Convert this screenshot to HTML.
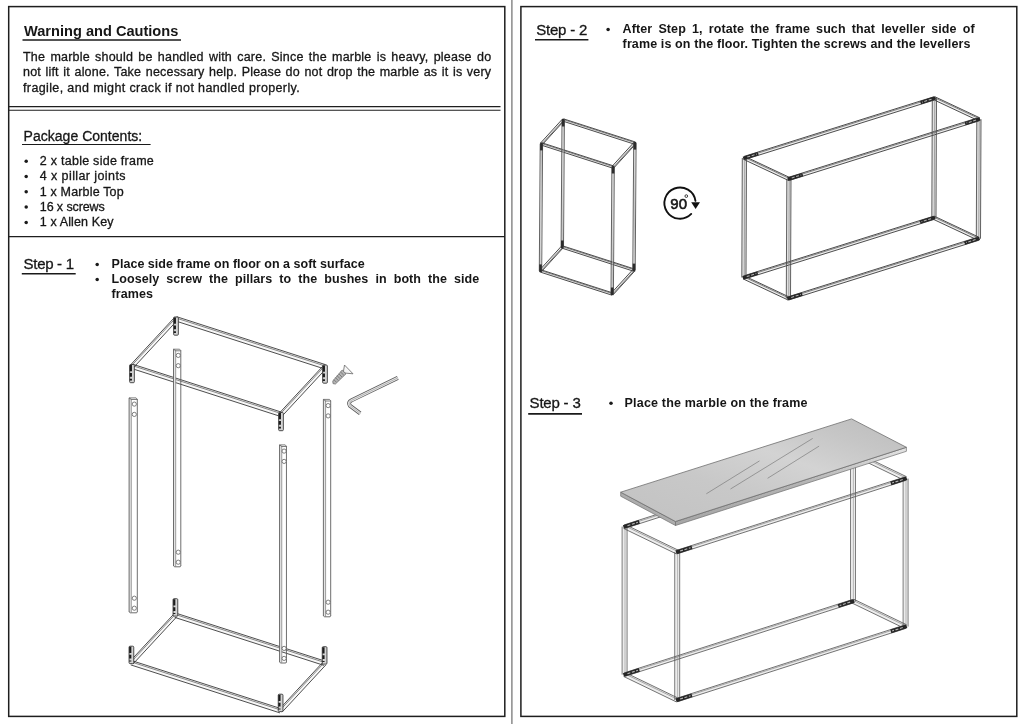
<!DOCTYPE html>
<html><head><meta charset="utf-8"><title>Assembly instructions</title>
<style>
html,body{margin:0;padding:0;background:#fff;}
body{width:1024px;height:724px;position:relative;overflow:hidden;font-family:"Liberation Sans",sans-serif;color:#161616;}
svg{position:absolute;left:0;top:0;}
.t{position:absolute;filter:grayscale(1);white-space:nowrap;line-height:1;margin:0;padding:0;}
</style></head><body>
<svg width="1024" height="724" viewBox="0 0 1024 724">
<rect x="8.7" y="6.6" width="496.1" height="709.8" fill="none" stroke="#1e1e1e" stroke-width="1.5"/>
<rect x="520.9" y="6.6" width="495.9" height="709.8" fill="none" stroke="#1e1e1e" stroke-width="1.5"/>
<line x1="511.9" y1="0" x2="511.9" y2="724" stroke="#777" stroke-width="1.3" />
<line x1="8.7" y1="106.6" x2="500.5" y2="106.6" stroke="#1e1e1e" stroke-width="1.1" />
<line x1="8.7" y1="110.2" x2="500.5" y2="110.2" stroke="#1e1e1e" stroke-width="1.1" />
<line x1="8.7" y1="236.7" x2="504.8" y2="236.7" stroke="#1e1e1e" stroke-width="1.3" />
<polygon points="175.33,320.89 324.33,368.89 325.67,364.71 176.67,316.71" fill="rgba(0,0,0,0.03)"/>
<line x1="175.33" y1="320.89" x2="324.33" y2="368.89" stroke="#3a3a3a" stroke-width="0.9" />
<line x1="176.67" y1="316.71" x2="325.67" y2="364.71" stroke="#3a3a3a" stroke-width="0.9" />
<line x1="176.24" y1="318.05" x2="325.24" y2="366.05" stroke="#5a5a5a" stroke-width="0.7200000000000001" />
<polygon points="131.33,368.39 280.33,416.39 281.67,412.21 132.67,364.21" fill="rgba(0,0,0,0.03)"/>
<line x1="131.33" y1="368.39" x2="280.33" y2="416.39" stroke="#3a3a3a" stroke-width="0.9" />
<line x1="132.67" y1="364.21" x2="281.67" y2="412.21" stroke="#3a3a3a" stroke-width="0.9" />
<line x1="132.24" y1="365.55" x2="281.24" y2="413.55" stroke="#5a5a5a" stroke-width="0.7200000000000001" />
<polygon points="133.47,367.66 177.47,320.16 174.53,317.44 130.53,364.94" fill="rgba(0,0,0,0.03)"/>
<line x1="133.47" y1="367.66" x2="177.47" y2="320.16" stroke="#3a3a3a" stroke-width="0.9" />
<line x1="130.53" y1="364.94" x2="174.53" y2="317.44" stroke="#3a3a3a" stroke-width="0.9" />
<line x1="131.47" y1="365.81" x2="175.47" y2="318.31" stroke="#5a5a5a" stroke-width="0.7200000000000001" />
<polygon points="282.47,415.66 326.47,368.16 323.53,365.44 279.53,412.94" fill="rgba(0,0,0,0.03)"/>
<line x1="282.47" y1="415.66" x2="326.47" y2="368.16" stroke="#3a3a3a" stroke-width="0.9" />
<line x1="279.53" y1="412.94" x2="323.53" y2="365.44" stroke="#3a3a3a" stroke-width="0.9" />
<line x1="280.47" y1="413.81" x2="324.47" y2="366.31" stroke="#5a5a5a" stroke-width="0.7200000000000001" />
<rect x="173.65" y="317" width="4.7" height="18.2" rx="1.0" fill="#d4d4d4" stroke="#3a3a3a" stroke-width="0.9"/>
<line x1="174.85" y1="317.6" x2="174.85" y2="333" stroke="#1c1c1c" stroke-width="2.2" stroke-dasharray="6.2 1.8 3.6 2.0"/>
<rect x="129.65" y="364.5" width="4.7" height="18.2" rx="1.0" fill="#d4d4d4" stroke="#3a3a3a" stroke-width="0.9"/>
<line x1="130.85" y1="365.1" x2="130.85" y2="380.5" stroke="#1c1c1c" stroke-width="2.2" stroke-dasharray="6.2 1.8 3.6 2.0"/>
<rect x="322.65" y="365" width="4.7" height="18.2" rx="1.0" fill="#d4d4d4" stroke="#3a3a3a" stroke-width="0.9"/>
<line x1="323.85" y1="365.6" x2="323.85" y2="381" stroke="#1c1c1c" stroke-width="2.2" stroke-dasharray="6.2 1.8 3.6 2.0"/>
<rect x="278.65" y="412.5" width="4.7" height="18.2" rx="1.0" fill="#d4d4d4" stroke="#3a3a3a" stroke-width="0.9"/>
<line x1="279.85" y1="413.1" x2="279.85" y2="428.5" stroke="#1c1c1c" stroke-width="2.2" stroke-dasharray="6.2 1.8 3.6 2.0"/>
<polygon points="174.73,617.39 323.93,665.39 325.27,661.21 176.07,613.21" fill="rgba(0,0,0,0.03)"/>
<line x1="174.73" y1="617.39" x2="323.93" y2="665.39" stroke="#3a3a3a" stroke-width="0.9" />
<line x1="176.07" y1="613.21" x2="325.27" y2="661.21" stroke="#3a3a3a" stroke-width="0.9" />
<line x1="175.64" y1="614.55" x2="324.84" y2="662.55" stroke="#5a5a5a" stroke-width="0.7200000000000001" />
<polygon points="130.73,664.89 279.93,712.89 281.27,708.71 132.07,660.71" fill="rgba(0,0,0,0.03)"/>
<line x1="130.73" y1="664.89" x2="279.93" y2="712.89" stroke="#3a3a3a" stroke-width="0.9" />
<line x1="132.07" y1="660.71" x2="281.27" y2="708.71" stroke="#3a3a3a" stroke-width="0.9" />
<line x1="131.64" y1="662.05" x2="280.84" y2="710.05" stroke="#5a5a5a" stroke-width="0.7200000000000001" />
<polygon points="132.87,664.16 176.87,616.66 173.93,613.94 129.93,661.44" fill="rgba(0,0,0,0.03)"/>
<line x1="132.87" y1="664.16" x2="176.87" y2="616.66" stroke="#3a3a3a" stroke-width="0.9" />
<line x1="129.93" y1="661.44" x2="173.93" y2="613.94" stroke="#3a3a3a" stroke-width="0.9" />
<line x1="130.87" y1="662.31" x2="174.87" y2="614.81" stroke="#5a5a5a" stroke-width="0.7200000000000001" />
<polygon points="282.07,712.16 326.07,664.66 323.13,661.94 279.13,709.44" fill="rgba(0,0,0,0.03)"/>
<line x1="282.07" y1="712.16" x2="326.07" y2="664.66" stroke="#3a3a3a" stroke-width="0.9" />
<line x1="279.13" y1="709.44" x2="323.13" y2="661.94" stroke="#3a3a3a" stroke-width="0.9" />
<line x1="280.07" y1="710.31" x2="324.07" y2="662.81" stroke="#5a5a5a" stroke-width="0.7200000000000001" />
<rect x="173.05" y="598.7" width="4.7" height="17.4" rx="1.0" fill="#d4d4d4" stroke="#3a3a3a" stroke-width="0.9"/>
<line x1="174.25" y1="599.3" x2="174.25" y2="613.9" stroke="#1c1c1c" stroke-width="2.2" stroke-dasharray="6.2 1.8 3.6 2.0"/>
<rect x="129.05" y="646.2" width="4.7" height="17.4" rx="1.0" fill="#d4d4d4" stroke="#3a3a3a" stroke-width="0.9"/>
<line x1="130.25" y1="646.8" x2="130.25" y2="661.4" stroke="#1c1c1c" stroke-width="2.2" stroke-dasharray="6.2 1.8 3.6 2.0"/>
<rect x="322.25" y="646.7" width="4.7" height="17.4" rx="1.0" fill="#d4d4d4" stroke="#3a3a3a" stroke-width="0.9"/>
<line x1="323.45" y1="647.3" x2="323.45" y2="661.9" stroke="#1c1c1c" stroke-width="2.2" stroke-dasharray="6.2 1.8 3.6 2.0"/>
<rect x="278.25" y="694.2" width="4.7" height="17.4" rx="1.0" fill="#d4d4d4" stroke="#3a3a3a" stroke-width="0.9"/>
<line x1="279.45" y1="694.8" x2="279.45" y2="709.4" stroke="#1c1c1c" stroke-width="2.2" stroke-dasharray="6.2 1.8 3.6 2.0"/>
<rect x="129.1" y="397.9" width="2.2" height="214.9" fill="#e4e4e4"/>
<line x1="129.1" y1="397.9" x2="129.1" y2="612" stroke="#5e5e5e" stroke-width="0.9" />
<line x1="137.3" y1="399.1" x2="137.3" y2="612" stroke="#5e5e5e" stroke-width="0.9" />
<line x1="131.3" y1="398.9" x2="131.3" y2="612.3" stroke="#808080" stroke-width="0.75" />
<path d="M129.1 397.9 L136.1 397.9 L137.3 399.3 M129.1 397.9 L131.3 399.5 L137.3 399.5" fill="none" stroke="#5e5e5e" stroke-width="0.8"/>
<path d="M129.1 611.8 L130.3 612.8 L136.7 612.8 L137.3 611.8" fill="none" stroke="#5e5e5e" stroke-width="0.9"/>
<circle cx="134.3" cy="404.1" r="2.1" fill="#fff" stroke="#5e5e5e" stroke-width="0.8"/>
<circle cx="134.3" cy="414.4" r="2.1" fill="#fff" stroke="#5e5e5e" stroke-width="0.8"/>
<circle cx="134.3" cy="608.2" r="2.1" fill="#fff" stroke="#5e5e5e" stroke-width="0.8"/>
<circle cx="134.3" cy="598.2" r="2.1" fill="#fff" stroke="#5e5e5e" stroke-width="0.8"/>
<rect x="173.5" y="349.2" width="2.2" height="217.6" fill="#e4e4e4"/>
<line x1="173.5" y1="349.2" x2="173.5" y2="566" stroke="#5e5e5e" stroke-width="0.9" />
<line x1="180.8" y1="350.4" x2="180.8" y2="566" stroke="#5e5e5e" stroke-width="0.9" />
<line x1="175.7" y1="350.2" x2="175.7" y2="566.3" stroke="#808080" stroke-width="0.75" />
<path d="M173.5 349.2 L179.6 349.2 L180.8 350.6 M173.5 349.2 L175.7 350.8 L180.8 350.8" fill="none" stroke="#5e5e5e" stroke-width="0.8"/>
<path d="M173.5 565.8 L174.7 566.8 L180.2 566.8 L180.8 565.8" fill="none" stroke="#5e5e5e" stroke-width="0.9"/>
<circle cx="178.25" cy="355.4" r="2.1" fill="#fff" stroke="#5e5e5e" stroke-width="0.8"/>
<circle cx="178.25" cy="365.7" r="2.1" fill="#fff" stroke="#5e5e5e" stroke-width="0.8"/>
<circle cx="178.25" cy="562.2" r="2.1" fill="#fff" stroke="#5e5e5e" stroke-width="0.8"/>
<circle cx="178.25" cy="552.2" r="2.1" fill="#fff" stroke="#5e5e5e" stroke-width="0.8"/>
<rect x="279.55" y="444.9" width="2.2" height="218.1" fill="#e4e4e4"/>
<line x1="279.55" y1="444.9" x2="279.55" y2="662.2" stroke="#5e5e5e" stroke-width="0.9" />
<line x1="286.45" y1="446.1" x2="286.45" y2="662.2" stroke="#5e5e5e" stroke-width="0.9" />
<line x1="281.75" y1="445.9" x2="281.75" y2="662.5" stroke="#808080" stroke-width="0.75" />
<path d="M279.55 444.9 L285.25 444.9 L286.45 446.3 M279.55 444.9 L281.75 446.5 L286.45 446.5" fill="none" stroke="#5e5e5e" stroke-width="0.8"/>
<path d="M279.55 662 L280.75 663 L285.85 663 L286.45 662" fill="none" stroke="#5e5e5e" stroke-width="0.9"/>
<circle cx="284.1" cy="451.1" r="2.1" fill="#fff" stroke="#5e5e5e" stroke-width="0.8"/>
<circle cx="284.1" cy="461.4" r="2.1" fill="#fff" stroke="#5e5e5e" stroke-width="0.8"/>
<circle cx="284.1" cy="658.4" r="2.1" fill="#fff" stroke="#5e5e5e" stroke-width="0.8"/>
<circle cx="284.1" cy="648.4" r="2.1" fill="#fff" stroke="#5e5e5e" stroke-width="0.8"/>
<rect x="323.4" y="399.4" width="2.2" height="217.4" fill="#e4e4e4"/>
<line x1="323.4" y1="399.4" x2="323.4" y2="616" stroke="#5e5e5e" stroke-width="0.9" />
<line x1="330.7" y1="400.6" x2="330.7" y2="616" stroke="#5e5e5e" stroke-width="0.9" />
<line x1="325.6" y1="400.4" x2="325.6" y2="616.3" stroke="#808080" stroke-width="0.75" />
<path d="M323.4 399.4 L329.5 399.4 L330.7 400.8 M323.4 399.4 L325.6 401 L330.7 401" fill="none" stroke="#5e5e5e" stroke-width="0.8"/>
<path d="M323.4 615.8 L324.6 616.8 L330.1 616.8 L330.7 615.8" fill="none" stroke="#5e5e5e" stroke-width="0.9"/>
<circle cx="328.15" cy="405.6" r="2.1" fill="#fff" stroke="#5e5e5e" stroke-width="0.8"/>
<circle cx="328.15" cy="415.9" r="2.1" fill="#fff" stroke="#5e5e5e" stroke-width="0.8"/>
<circle cx="328.15" cy="612.2" r="2.1" fill="#fff" stroke="#5e5e5e" stroke-width="0.8"/>
<circle cx="328.15" cy="602.2" r="2.1" fill="#fff" stroke="#5e5e5e" stroke-width="0.8"/>
<g stroke="#777" stroke-width="0.8" fill="none"><polygon points="344.5,365.0 353.0,373.8 343.2,372.9" fill="#f6f6f6" stroke="#666"/><polygon points="342.2,370.0 346.0,373.8 335.4,384.0 333.0,383.6 332.8,381.0" fill="#b4b4b4" stroke="#707070"/><path d="M340.6,372 l3.2,3.2 M338.8,373.8 l3.2,3.2 M337,375.6 l3.2,3.2 M335.2,377.4 l3.2,3.2 M333.8,379.6 l2.6,2.6" stroke="#6f6f6f"/></g>
<g fill="none" stroke-linecap="butt" stroke-linejoin="round"><path d="M397.8,377.9 L351.6,400.3 Q347.6,402.4 349.8,405.6 L360.2,413.4" stroke="#5c5c5c" stroke-width="4.0"/><path d="M397.8,377.9 L351.6,400.3 Q347.6,402.4 349.8,405.6 L360.2,413.4" stroke="#ececec" stroke-width="2.4"/><path d="M397.8,377.9 L351.6,400.3 Q347.6,402.4 349.8,405.6 L360.2,413.4" stroke="#8a8a8a" stroke-width="0.6"/></g>
<polygon points="562.83,121.14 634.53,144.24 635.27,141.96 563.57,118.86" fill="rgba(0,0,0,0.07)"/>
<line x1="562.83" y1="121.14" x2="634.53" y2="144.24" stroke="#3a3a3a" stroke-width="0.9" />
<line x1="563.57" y1="118.86" x2="635.27" y2="141.96" stroke="#3a3a3a" stroke-width="0.9" />
<line x1="563.33" y1="119.59" x2="635.03" y2="142.69" stroke="#5a5a5a" stroke-width="0.7200000000000001" />
<polygon points="541.03,145.04 612.73,168.14 613.47,165.86 541.77,142.76" fill="rgba(0,0,0,0.07)"/>
<line x1="541.03" y1="145.04" x2="612.73" y2="168.14" stroke="#3a3a3a" stroke-width="0.9" />
<line x1="541.77" y1="142.76" x2="613.47" y2="165.86" stroke="#3a3a3a" stroke-width="0.9" />
<line x1="541.53" y1="143.49" x2="613.23" y2="166.59" stroke="#5a5a5a" stroke-width="0.7200000000000001" />
<polygon points="562.31,119.19 540.51,143.09 542.29,144.71 564.09,120.81" fill="rgba(0,0,0,0.07)"/>
<line x1="562.31" y1="119.19" x2="540.51" y2="143.09" stroke="#3a3a3a" stroke-width="0.9" />
<line x1="564.09" y1="120.81" x2="542.29" y2="144.71" stroke="#3a3a3a" stroke-width="0.9" />
<line x1="563.52" y1="120.29" x2="541.72" y2="144.19" stroke="#5a5a5a" stroke-width="0.7200000000000001" />
<polygon points="634.01,142.29 612.21,166.19 613.99,167.81 635.79,143.91" fill="rgba(0,0,0,0.07)"/>
<line x1="634.01" y1="142.29" x2="612.21" y2="166.19" stroke="#3a3a3a" stroke-width="0.9" />
<line x1="635.79" y1="143.91" x2="613.99" y2="167.81" stroke="#3a3a3a" stroke-width="0.9" />
<line x1="635.22" y1="143.39" x2="613.42" y2="167.29" stroke="#5a5a5a" stroke-width="0.7200000000000001" />
<polygon points="561.93,248.14 633.63,271.24 634.37,268.96 562.67,245.86" fill="rgba(0,0,0,0.07)"/>
<line x1="561.93" y1="248.14" x2="633.63" y2="271.24" stroke="#3a3a3a" stroke-width="0.9" />
<line x1="562.67" y1="245.86" x2="634.37" y2="268.96" stroke="#3a3a3a" stroke-width="0.9" />
<line x1="562.43" y1="246.59" x2="634.13" y2="269.69" stroke="#5a5a5a" stroke-width="0.7200000000000001" />
<polygon points="540.13,272.04 611.83,295.14 612.57,292.86 540.87,269.76" fill="rgba(0,0,0,0.07)"/>
<line x1="540.13" y1="272.04" x2="611.83" y2="295.14" stroke="#3a3a3a" stroke-width="0.9" />
<line x1="540.87" y1="269.76" x2="612.57" y2="292.86" stroke="#3a3a3a" stroke-width="0.9" />
<line x1="540.63" y1="270.49" x2="612.33" y2="293.59" stroke="#5a5a5a" stroke-width="0.7200000000000001" />
<polygon points="561.41,246.19 539.61,270.09 541.39,271.71 563.19,247.81" fill="rgba(0,0,0,0.07)"/>
<line x1="561.41" y1="246.19" x2="539.61" y2="270.09" stroke="#3a3a3a" stroke-width="0.9" />
<line x1="563.19" y1="247.81" x2="541.39" y2="271.71" stroke="#3a3a3a" stroke-width="0.9" />
<line x1="562.62" y1="247.29" x2="540.82" y2="271.19" stroke="#5a5a5a" stroke-width="0.7200000000000001" />
<polygon points="633.11,269.29 611.31,293.19 613.09,294.81 634.89,270.91" fill="rgba(0,0,0,0.07)"/>
<line x1="633.11" y1="269.29" x2="611.31" y2="293.19" stroke="#3a3a3a" stroke-width="0.9" />
<line x1="634.89" y1="270.91" x2="613.09" y2="294.81" stroke="#3a3a3a" stroke-width="0.9" />
<line x1="634.32" y1="270.39" x2="612.52" y2="294.29" stroke="#5a5a5a" stroke-width="0.7200000000000001" />
<polygon points="562,119.99 561.1,246.99 563.5,247.01 564.4,120.01" fill="rgba(0,0,0,0.05)"/>
<line x1="562" y1="119.99" x2="561.1" y2="246.99" stroke="#505050" stroke-width="0.9" />
<line x1="564.4" y1="120.01" x2="563.5" y2="247.01" stroke="#505050" stroke-width="0.9" />
<line x1="563.39" y1="120" x2="562.49" y2="247" stroke="#b0b0b0" stroke-width="0.7200000000000001" />
<polygon points="540.2,143.89 539.3,270.89 541.7,270.91 542.6,143.91" fill="rgba(0,0,0,0.05)"/>
<line x1="540.2" y1="143.89" x2="539.3" y2="270.89" stroke="#505050" stroke-width="0.9" />
<line x1="542.6" y1="143.91" x2="541.7" y2="270.91" stroke="#505050" stroke-width="0.9" />
<line x1="541.59" y1="143.9" x2="540.69" y2="270.9" stroke="#b0b0b0" stroke-width="0.7200000000000001" />
<polygon points="611.9,166.99 611,293.99 613.4,294.01 614.3,167.01" fill="rgba(0,0,0,0.05)"/>
<line x1="611.9" y1="166.99" x2="611" y2="293.99" stroke="#505050" stroke-width="0.9" />
<line x1="614.3" y1="167.01" x2="613.4" y2="294.01" stroke="#505050" stroke-width="0.9" />
<line x1="613.29" y1="167" x2="612.39" y2="294" stroke="#b0b0b0" stroke-width="0.7200000000000001" />
<polygon points="633.7,143.09 632.8,270.09 635.2,270.11 636.1,143.11" fill="rgba(0,0,0,0.05)"/>
<line x1="633.7" y1="143.09" x2="632.8" y2="270.09" stroke="#505050" stroke-width="0.9" />
<line x1="636.1" y1="143.11" x2="635.2" y2="270.11" stroke="#505050" stroke-width="0.9" />
<line x1="635.09" y1="143.1" x2="634.19" y2="270.1" stroke="#b0b0b0" stroke-width="0.7200000000000001" />
<line x1="563.2" y1="118.8" x2="563.2" y2="126.5" stroke="#2c2c2c" stroke-width="2.6" />
<line x1="541.4" y1="142.7" x2="541.4" y2="150.4" stroke="#2c2c2c" stroke-width="2.6" />
<line x1="613.1" y1="165.8" x2="613.1" y2="173.5" stroke="#2c2c2c" stroke-width="2.6" />
<line x1="634.9" y1="141.9" x2="634.9" y2="149.6" stroke="#2c2c2c" stroke-width="2.6" />
<line x1="562.3" y1="248.2" x2="562.3" y2="240.5" stroke="#2c2c2c" stroke-width="2.6" />
<line x1="540.5" y1="272.1" x2="540.5" y2="264.4" stroke="#2c2c2c" stroke-width="2.6" />
<line x1="612.2" y1="295.2" x2="612.2" y2="287.5" stroke="#2c2c2c" stroke-width="2.6" />
<line x1="634" y1="271.3" x2="634" y2="263.6" stroke="#2c2c2c" stroke-width="2.6" />
<path d="M691.22 213.94 A15.6 15.6 0 1 1 695.45 200.93" fill="none" stroke="#111" stroke-width="1.9" stroke-linecap="round"/>
<polygon points="691.2,202.2 700.0,202.2 695.6,209.0" fill="#111"/>
<circle cx="686.3" cy="196.1" r="1.35" fill="none" stroke="#111" stroke-width="0.8"/>
<polygon points="744.88,159.53 934.88,99.83 933.92,96.77 743.92,156.47" fill="rgba(0,0,0,0.07)"/>
<line x1="744.88" y1="159.53" x2="934.88" y2="99.83" stroke="#3a3a3a" stroke-width="0.9" />
<line x1="743.92" y1="156.47" x2="933.92" y2="96.77" stroke="#3a3a3a" stroke-width="0.9" />
<line x1="744.23" y1="157.45" x2="934.23" y2="97.75" stroke="#5a5a5a" stroke-width="0.7200000000000001" />
<polygon points="789.38,180.43 979.38,120.73 978.42,117.67 788.42,177.37" fill="rgba(0,0,0,0.07)"/>
<line x1="789.38" y1="180.43" x2="979.38" y2="120.73" stroke="#3a3a3a" stroke-width="0.9" />
<line x1="788.42" y1="177.37" x2="978.42" y2="117.67" stroke="#3a3a3a" stroke-width="0.9" />
<line x1="788.73" y1="178.35" x2="978.73" y2="118.65" stroke="#5a5a5a" stroke-width="0.7200000000000001" />
<polygon points="743.72,159.45 788.22,180.35 789.58,177.45 745.08,156.55" fill="rgba(0,0,0,0.07)"/>
<line x1="743.72" y1="159.45" x2="788.22" y2="180.35" stroke="#3a3a3a" stroke-width="0.9" />
<line x1="745.08" y1="156.55" x2="789.58" y2="177.45" stroke="#3a3a3a" stroke-width="0.9" />
<line x1="744.64" y1="157.48" x2="789.14" y2="178.38" stroke="#5a5a5a" stroke-width="0.7200000000000001" />
<polygon points="933.72,99.75 978.22,120.65 979.58,117.75 935.08,96.85" fill="rgba(0,0,0,0.07)"/>
<line x1="933.72" y1="99.75" x2="978.22" y2="120.65" stroke="#3a3a3a" stroke-width="0.9" />
<line x1="935.08" y1="96.85" x2="979.58" y2="117.75" stroke="#3a3a3a" stroke-width="0.9" />
<line x1="934.64" y1="97.78" x2="979.14" y2="118.68" stroke="#5a5a5a" stroke-width="0.7200000000000001" />
<polygon points="744.38,279.03 934.38,219.33 933.42,216.27 743.42,275.97" fill="rgba(0,0,0,0.07)"/>
<line x1="744.38" y1="279.03" x2="934.38" y2="219.33" stroke="#3a3a3a" stroke-width="0.9" />
<line x1="743.42" y1="275.97" x2="933.42" y2="216.27" stroke="#3a3a3a" stroke-width="0.9" />
<line x1="743.73" y1="276.95" x2="933.73" y2="217.25" stroke="#5a5a5a" stroke-width="0.7200000000000001" />
<polygon points="788.88,299.93 978.88,240.23 977.92,237.17 787.92,296.87" fill="rgba(0,0,0,0.07)"/>
<line x1="788.88" y1="299.93" x2="978.88" y2="240.23" stroke="#3a3a3a" stroke-width="0.9" />
<line x1="787.92" y1="296.87" x2="977.92" y2="237.17" stroke="#3a3a3a" stroke-width="0.9" />
<line x1="788.23" y1="297.85" x2="978.23" y2="238.15" stroke="#5a5a5a" stroke-width="0.7200000000000001" />
<polygon points="743.22,278.95 787.72,299.85 789.08,296.95 744.58,276.05" fill="rgba(0,0,0,0.07)"/>
<line x1="743.22" y1="278.95" x2="787.72" y2="299.85" stroke="#3a3a3a" stroke-width="0.9" />
<line x1="744.58" y1="276.05" x2="789.08" y2="296.95" stroke="#3a3a3a" stroke-width="0.9" />
<line x1="744.14" y1="276.98" x2="788.64" y2="297.88" stroke="#5a5a5a" stroke-width="0.7200000000000001" />
<polygon points="933.22,219.25 977.72,240.15 979.08,237.25 934.58,216.35" fill="rgba(0,0,0,0.07)"/>
<line x1="933.22" y1="219.25" x2="977.72" y2="240.15" stroke="#3a3a3a" stroke-width="0.9" />
<line x1="934.58" y1="216.35" x2="979.08" y2="237.25" stroke="#3a3a3a" stroke-width="0.9" />
<line x1="934.14" y1="217.28" x2="978.64" y2="238.18" stroke="#5a5a5a" stroke-width="0.7200000000000001" />
<polygon points="742.3,157.99 741.8,277.49 746,277.51 746.5,158.01" fill="rgba(0,0,0,0.12)"/>
<line x1="742.3" y1="157.99" x2="741.8" y2="277.49" stroke="#505050" stroke-width="0.9" />
<line x1="746.5" y1="158.01" x2="746" y2="277.51" stroke="#505050" stroke-width="0.9" />
<line x1="744.74" y1="158" x2="744.24" y2="277.5" stroke="#8a8a8a" stroke-width="0.7200000000000001" />
<polygon points="786.8,178.89 786.3,298.39 790.5,298.41 791,178.91" fill="rgba(0,0,0,0.12)"/>
<line x1="786.8" y1="178.89" x2="786.3" y2="298.39" stroke="#505050" stroke-width="0.9" />
<line x1="791" y1="178.91" x2="790.5" y2="298.41" stroke="#505050" stroke-width="0.9" />
<line x1="789.24" y1="178.9" x2="788.74" y2="298.4" stroke="#8a8a8a" stroke-width="0.7200000000000001" />
<polygon points="976.8,119.19 976.3,238.69 980.5,238.71 981,119.21" fill="rgba(0,0,0,0.12)"/>
<line x1="976.8" y1="119.19" x2="976.3" y2="238.69" stroke="#505050" stroke-width="0.9" />
<line x1="981" y1="119.21" x2="980.5" y2="238.71" stroke="#505050" stroke-width="0.9" />
<line x1="979.24" y1="119.2" x2="978.74" y2="238.7" stroke="#8a8a8a" stroke-width="0.7200000000000001" />
<polygon points="932.3,98.29 931.8,217.79 936,217.81 936.5,98.31" fill="rgba(0,0,0,0.12)"/>
<line x1="932.3" y1="98.29" x2="931.8" y2="217.79" stroke="#505050" stroke-width="0.9" />
<line x1="936.5" y1="98.31" x2="936" y2="217.81" stroke="#505050" stroke-width="0.9" />
<line x1="934.74" y1="98.3" x2="934.24" y2="217.8" stroke="#8a8a8a" stroke-width="0.7200000000000001" />
<line x1="743.26" y1="158.36" x2="758.23" y2="153.65" stroke="#262626" stroke-width="3.5" stroke-linecap="butt"/>
<line x1="747.26" y1="157.1" x2="756.8" y2="154.1" stroke="#b5b5b5" stroke-width="1.05" stroke-dasharray="3 1.6"/>
<line x1="935.54" y1="97.94" x2="920.57" y2="102.65" stroke="#262626" stroke-width="3.5" stroke-linecap="butt"/>
<line x1="931.54" y1="99.2" x2="922" y2="102.2" stroke="#b5b5b5" stroke-width="1.05" stroke-dasharray="3 1.6"/>
<line x1="787.76" y1="179.26" x2="802.73" y2="174.55" stroke="#262626" stroke-width="3.5" stroke-linecap="butt"/>
<line x1="791.76" y1="178" x2="801.3" y2="175" stroke="#b5b5b5" stroke-width="1.05" stroke-dasharray="3 1.6"/>
<line x1="980.04" y1="118.84" x2="965.07" y2="123.55" stroke="#262626" stroke-width="3.5" stroke-linecap="butt"/>
<line x1="976.04" y1="120.1" x2="966.5" y2="123.1" stroke="#b5b5b5" stroke-width="1.05" stroke-dasharray="3 1.6"/>
<line x1="742.76" y1="277.86" x2="757.73" y2="273.15" stroke="#262626" stroke-width="3.5" stroke-linecap="butt"/>
<line x1="746.76" y1="276.6" x2="756.3" y2="273.6" stroke="#b5b5b5" stroke-width="1.05" stroke-dasharray="3 1.6"/>
<line x1="935.04" y1="217.44" x2="920.07" y2="222.15" stroke="#262626" stroke-width="3.5" stroke-linecap="butt"/>
<line x1="931.04" y1="218.7" x2="921.5" y2="221.7" stroke="#b5b5b5" stroke-width="1.05" stroke-dasharray="3 1.6"/>
<line x1="787.26" y1="298.76" x2="802.23" y2="294.05" stroke="#262626" stroke-width="3.5" stroke-linecap="butt"/>
<line x1="791.26" y1="297.5" x2="800.8" y2="294.5" stroke="#b5b5b5" stroke-width="1.05" stroke-dasharray="3 1.6"/>
<line x1="979.54" y1="238.34" x2="964.57" y2="243.05" stroke="#262626" stroke-width="3.5" stroke-linecap="butt"/>
<line x1="975.54" y1="239.6" x2="966" y2="242.6" stroke="#b5b5b5" stroke-width="1.05" stroke-dasharray="3 1.6"/>
<polygon points="625.14,528.27 853.54,454.87 852.46,451.53 624.06,524.93" fill="rgba(0,0,0,0.07)"/>
<line x1="625.14" y1="528.27" x2="853.54" y2="454.87" stroke="#505050" stroke-width="0.8" />
<line x1="624.06" y1="524.93" x2="852.46" y2="451.53" stroke="#505050" stroke-width="0.8" />
<line x1="624.41" y1="526" x2="852.81" y2="452.6" stroke="#808080" stroke-width="0.6400000000000001" />
<polygon points="677.74,553.67 906.14,480.27 905.06,476.93 676.66,550.33" fill="rgba(0,0,0,0.07)"/>
<line x1="677.74" y1="553.67" x2="906.14" y2="480.27" stroke="#505050" stroke-width="0.8" />
<line x1="676.66" y1="550.33" x2="905.06" y2="476.93" stroke="#505050" stroke-width="0.8" />
<line x1="677.01" y1="551.4" x2="905.41" y2="478" stroke="#808080" stroke-width="0.6400000000000001" />
<polygon points="623.69,528.49 676.29,553.89 678.11,550.11 625.51,524.71" fill="rgba(0,0,0,0.07)"/>
<line x1="623.69" y1="528.49" x2="676.29" y2="553.89" stroke="#505050" stroke-width="0.8" />
<line x1="625.51" y1="524.71" x2="678.11" y2="550.11" stroke="#505050" stroke-width="0.8" />
<line x1="624.93" y1="525.92" x2="677.53" y2="551.32" stroke="#808080" stroke-width="0.6400000000000001" />
<polygon points="852.09,455.09 904.69,480.49 906.51,476.71 853.91,451.31" fill="rgba(0,0,0,0.07)"/>
<line x1="852.09" y1="455.09" x2="904.69" y2="480.49" stroke="#505050" stroke-width="0.8" />
<line x1="853.91" y1="451.31" x2="906.51" y2="476.71" stroke="#505050" stroke-width="0.8" />
<line x1="853.33" y1="452.52" x2="905.93" y2="477.92" stroke="#808080" stroke-width="0.6400000000000001" />
<polygon points="625.14,676.27 853.54,602.87 852.46,599.53 624.06,672.93" fill="rgba(0,0,0,0.07)"/>
<line x1="625.14" y1="676.27" x2="853.54" y2="602.87" stroke="#505050" stroke-width="0.8" />
<line x1="624.06" y1="672.93" x2="852.46" y2="599.53" stroke="#505050" stroke-width="0.8" />
<line x1="624.41" y1="674" x2="852.81" y2="600.6" stroke="#808080" stroke-width="0.6400000000000001" />
<polygon points="677.74,701.67 906.14,628.27 905.06,624.93 676.66,698.33" fill="rgba(0,0,0,0.07)"/>
<line x1="677.74" y1="701.67" x2="906.14" y2="628.27" stroke="#505050" stroke-width="0.8" />
<line x1="676.66" y1="698.33" x2="905.06" y2="624.93" stroke="#505050" stroke-width="0.8" />
<line x1="677.01" y1="699.4" x2="905.41" y2="626" stroke="#808080" stroke-width="0.6400000000000001" />
<polygon points="623.69,676.49 676.29,701.89 678.11,698.11 625.51,672.71" fill="rgba(0,0,0,0.07)"/>
<line x1="623.69" y1="676.49" x2="676.29" y2="701.89" stroke="#505050" stroke-width="0.8" />
<line x1="625.51" y1="672.71" x2="678.11" y2="698.11" stroke="#505050" stroke-width="0.8" />
<line x1="624.93" y1="673.92" x2="677.53" y2="699.32" stroke="#808080" stroke-width="0.6400000000000001" />
<polygon points="852.09,603.09 904.69,628.49 906.51,624.71 853.91,599.31" fill="rgba(0,0,0,0.07)"/>
<line x1="852.09" y1="603.09" x2="904.69" y2="628.49" stroke="#505050" stroke-width="0.8" />
<line x1="853.91" y1="599.31" x2="906.51" y2="624.71" stroke="#505050" stroke-width="0.8" />
<line x1="853.33" y1="600.52" x2="905.93" y2="625.92" stroke="#808080" stroke-width="0.6400000000000001" />
<polygon points="622.1,526.6 622.1,674.6 627.1,674.6 627.1,526.6" fill="rgba(0,0,0,0.08)"/>
<line x1="622.1" y1="526.6" x2="622.1" y2="674.6" stroke="#606060" stroke-width="0.8" />
<line x1="627.1" y1="526.6" x2="627.1" y2="674.6" stroke="#606060" stroke-width="0.8" />
<line x1="625" y1="526.6" x2="625" y2="674.6" stroke="#999" stroke-width="0.6400000000000001" />
<polygon points="674.7,552 674.7,700 679.7,700 679.7,552" fill="rgba(0,0,0,0.08)"/>
<line x1="674.7" y1="552" x2="674.7" y2="700" stroke="#606060" stroke-width="0.8" />
<line x1="679.7" y1="552" x2="679.7" y2="700" stroke="#606060" stroke-width="0.8" />
<line x1="677.6" y1="552" x2="677.6" y2="700" stroke="#999" stroke-width="0.6400000000000001" />
<polygon points="903.1,478.6 903.1,626.6 908.1,626.6 908.1,478.6" fill="rgba(0,0,0,0.08)"/>
<line x1="903.1" y1="478.6" x2="903.1" y2="626.6" stroke="#606060" stroke-width="0.8" />
<line x1="908.1" y1="478.6" x2="908.1" y2="626.6" stroke="#606060" stroke-width="0.8" />
<line x1="906" y1="478.6" x2="906" y2="626.6" stroke="#999" stroke-width="0.6400000000000001" />
<polygon points="850.5,453.2 850.5,601.2 855.5,601.2 855.5,453.2" fill="rgba(0,0,0,0.08)"/>
<line x1="850.5" y1="453.2" x2="850.5" y2="601.2" stroke="#606060" stroke-width="0.8" />
<line x1="855.5" y1="453.2" x2="855.5" y2="601.2" stroke="#606060" stroke-width="0.8" />
<line x1="853.4" y1="453.2" x2="853.4" y2="601.2" stroke="#999" stroke-width="0.6400000000000001" />
<line x1="623.46" y1="526.97" x2="639.36" y2="521.86" stroke="#262626" stroke-width="3.8" stroke-linecap="butt"/>
<line x1="627.46" y1="525.68" x2="637.93" y2="522.32" stroke="#b5b5b5" stroke-width="1.14" stroke-dasharray="3 1.6"/>
<line x1="854.14" y1="452.83" x2="838.24" y2="457.94" stroke="#262626" stroke-width="3.8" stroke-linecap="butt"/>
<line x1="850.14" y1="454.12" x2="839.67" y2="457.48" stroke="#b5b5b5" stroke-width="1.14" stroke-dasharray="3 1.6"/>
<line x1="676.06" y1="552.37" x2="691.96" y2="547.26" stroke="#262626" stroke-width="3.8" stroke-linecap="butt"/>
<line x1="680.06" y1="551.08" x2="690.53" y2="547.72" stroke="#b5b5b5" stroke-width="1.14" stroke-dasharray="3 1.6"/>
<line x1="906.74" y1="478.23" x2="890.84" y2="483.34" stroke="#262626" stroke-width="3.8" stroke-linecap="butt"/>
<line x1="902.74" y1="479.52" x2="892.27" y2="482.88" stroke="#b5b5b5" stroke-width="1.14" stroke-dasharray="3 1.6"/>
<line x1="623.46" y1="674.97" x2="639.36" y2="669.86" stroke="#262626" stroke-width="3.8" stroke-linecap="butt"/>
<line x1="627.46" y1="673.68" x2="637.93" y2="670.32" stroke="#b5b5b5" stroke-width="1.14" stroke-dasharray="3 1.6"/>
<line x1="854.14" y1="600.83" x2="838.24" y2="605.94" stroke="#262626" stroke-width="3.8" stroke-linecap="butt"/>
<line x1="850.14" y1="602.12" x2="839.67" y2="605.48" stroke="#b5b5b5" stroke-width="1.14" stroke-dasharray="3 1.6"/>
<line x1="676.06" y1="700.37" x2="691.96" y2="695.26" stroke="#262626" stroke-width="3.8" stroke-linecap="butt"/>
<line x1="680.06" y1="699.08" x2="690.53" y2="695.72" stroke="#b5b5b5" stroke-width="1.14" stroke-dasharray="3 1.6"/>
<line x1="906.74" y1="626.23" x2="890.84" y2="631.34" stroke="#262626" stroke-width="3.8" stroke-linecap="butt"/>
<line x1="902.74" y1="627.52" x2="892.27" y2="630.88" stroke="#b5b5b5" stroke-width="1.14" stroke-dasharray="3 1.6"/>
<defs><linearGradient id="mg" x1="0" y1="1" x2="1" y2="0"><stop offset="0" stop-color="#c2c2c2"/><stop offset="0.35" stop-color="#c8c8c8"/><stop offset="0.6" stop-color="#d3d3d3"/><stop offset="0.8" stop-color="#c6c6c6"/><stop offset="1" stop-color="#bcbcbc"/></linearGradient><linearGradient id="mg2" x1="0" y1="0" x2="1" y2="0"><stop offset="0" stop-color="#a6a6a6"/><stop offset="0.55" stop-color="#b4b4b4"/><stop offset="1" stop-color="#e2e2e2"/></linearGradient></defs>
<polygon points="620.7,492.2 675.5,521.5 675.5,525.5 620.7,496.2" fill="#adadad" stroke="#6e6e6e" stroke-width="0.7" />
<polygon points="675.5,521.5 906.4,447.3 906.4,451.3 675.5,525.5" fill="url(#mg2)" stroke="#6e6e6e" stroke-width="0.7" />
<polygon points="620.7,492.2 851.6,418.9 906.4,447.3 675.5,521.5" fill="url(#mg)" stroke="#6e6e6e" stroke-width="0.8" />
<line x1="706.3" y1="493.8" x2="759.5" y2="460.9" stroke="#7d7d7d" stroke-width="0.7" />
<line x1="730.5" y1="489" x2="812.7" y2="438.4" stroke="#7d7d7d" stroke-width="0.7" />
<line x1="767.6" y1="478.3" x2="819.1" y2="446.1" stroke="#7d7d7d" stroke-width="0.7" />
<line x1="22.5" y1="40" x2="181" y2="40" stroke="#1a1a1a" stroke-width="1.5" />
<line x1="22" y1="144.5" x2="150.6" y2="144.5" stroke="#1a1a1a" stroke-width="1.2" />
<circle cx="26.2" cy="161.2" r="1.75" fill="#1a1a1a"/>
<circle cx="26.2" cy="176.5" r="1.75" fill="#1a1a1a"/>
<circle cx="26.2" cy="191.8" r="1.75" fill="#1a1a1a"/>
<circle cx="26.2" cy="207.1" r="1.75" fill="#1a1a1a"/>
<circle cx="26.2" cy="222.4" r="1.75" fill="#1a1a1a"/>
<line x1="21.8" y1="273.8" x2="75.7" y2="273.8" stroke="#1a1a1a" stroke-width="1.6" />
<circle cx="97.2" cy="264.4" r="1.75" fill="#1a1a1a"/>
<circle cx="97.2" cy="279.4" r="1.75" fill="#1a1a1a"/>
<line x1="535" y1="39.8" x2="588.4" y2="39.8" stroke="#1a1a1a" stroke-width="1.6" />
<circle cx="608.1" cy="29.4" r="1.75" fill="#1a1a1a"/>
<line x1="528.2" y1="413.9" x2="582" y2="413.9" stroke="#1a1a1a" stroke-width="1.6" />
<circle cx="611" cy="403.2" r="1.75" fill="#1a1a1a"/>
</svg>
<div class="t" style="left:24px;top:24.04px;font-size:14.6px;font-weight:700;letter-spacing:0px;">Warning and Cautions</div>
<div class="t" style="left:23px;top:51.22px;font-size:12.5px;font-weight:400;letter-spacing:0.2px;-webkit-text-stroke:0.3px #161616;width:468.3px;text-align:justify;text-align-last:justify;">The marble should be handled with care. Since the marble is heavy, please do</div>
<div class="t" style="left:23px;top:66.47px;font-size:12.5px;font-weight:400;letter-spacing:0.2px;-webkit-text-stroke:0.3px #161616;width:468.3px;text-align:justify;text-align-last:justify;">not lift it alone. Take necessary help. Please do not drop the marble as it is very</div>
<div class="t" style="left:23px;top:81.72px;font-size:12.5px;font-weight:400;letter-spacing:0.37px;-webkit-text-stroke:0.3px #161616;">fragile, and might crack if not handled properly.</div>
<div class="t" style="left:23.6px;top:129.15px;font-size:14px;font-weight:400;letter-spacing:0.02px;-webkit-text-stroke:0.3px #161616;">Package Contents:</div>
<div class="t" style="left:39.8px;top:155.02px;font-size:12.5px;font-weight:400;letter-spacing:0.26px;-webkit-text-stroke:0.3px #161616;">2 x table side frame</div>
<div class="t" style="left:39.8px;top:170.32px;font-size:12.5px;font-weight:400;letter-spacing:0.41px;-webkit-text-stroke:0.3px #161616;">4 x pillar joints</div>
<div class="t" style="left:39.8px;top:185.62px;font-size:12.5px;font-weight:400;letter-spacing:0.16px;-webkit-text-stroke:0.3px #161616;">1 x Marble Top</div>
<div class="t" style="left:39.8px;top:200.92px;font-size:12.5px;font-weight:400;letter-spacing:-0.1px;-webkit-text-stroke:0.3px #161616;">16 x screws</div>
<div class="t" style="left:39.8px;top:216.22px;font-size:12.5px;font-weight:400;letter-spacing:0.12px;-webkit-text-stroke:0.3px #161616;">1 x Allen Key</div>
<div class="t" style="left:23.6px;top:256px;font-size:15px;font-weight:400;letter-spacing:-0.3px;-webkit-text-stroke:0.3px #161616;">Step - 1</div>
<div class="t" style="left:111.6px;top:258.22px;font-size:12.5px;font-weight:700;letter-spacing:0.02px;">Place side frame on floor on a soft surface</div>
<div class="t" style="left:111.6px;top:273.22px;font-size:12.5px;font-weight:700;letter-spacing:0.05px;width:367.7px;text-align:justify;text-align-last:justify;">Loosely screw the pillars to the bushes in both the side</div>
<div class="t" style="left:111.6px;top:288.22px;font-size:12.5px;font-weight:700;letter-spacing:0.05px;">frames</div>
<div class="t" style="left:536.2px;top:22.3px;font-size:15px;font-weight:400;letter-spacing:-0.2px;-webkit-text-stroke:0.3px #161616;">Step - 2</div>
<div class="t" style="left:622.6px;top:23.32px;font-size:12.5px;font-weight:700;letter-spacing:0.1px;width:352.2px;text-align:justify;text-align-last:justify;">After Step 1, rotate the frame such that leveller side of</div>
<div class="t" style="left:622.6px;top:38.02px;font-size:12.5px;font-weight:700;letter-spacing:0.12px;">frame is on the floor. Tighten the screws and the levellers</div>
<div class="t" style="left:529.6px;top:395.1px;font-size:15px;font-weight:400;letter-spacing:-0.2px;-webkit-text-stroke:0.3px #161616;">Step - 3</div>
<div class="t" style="left:670.3px;top:195.7px;font-size:15px;font-weight:400;letter-spacing:0px;-webkit-text-stroke:0.6px #161616;">90</div>
<div class="t" style="left:624.6px;top:397.22px;font-size:12.5px;font-weight:700;letter-spacing:0.18px;">Place the marble on the frame</div>
</body></html>
